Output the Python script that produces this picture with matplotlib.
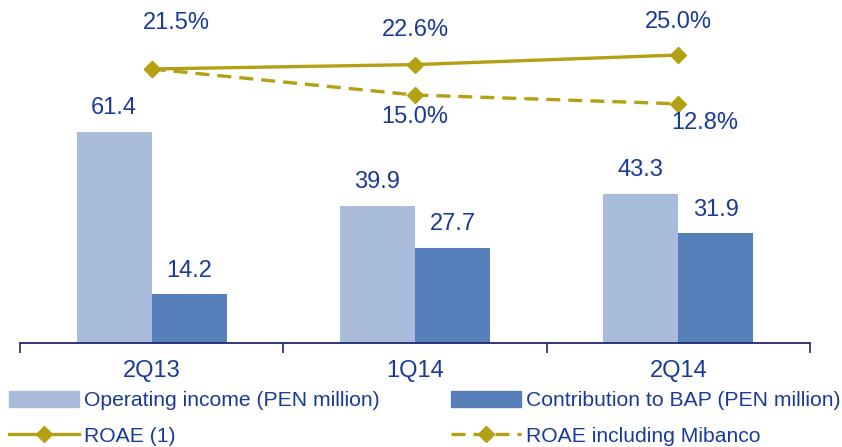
import matplotlib
matplotlib.use("Agg")
import matplotlib.pyplot as plt
import numpy as np
from matplotlib.lines import Line2D
from matplotlib.patches import Patch

plt.rcParams["font.family"] = ["Liberation Sans", "DejaVu Sans"]

quarters = ["2Q13", "1Q14", "2Q14"]
operating_income = [61.4, 39.9, 43.3]
contribution_bap = [14.2, 27.7, 31.9]
roae = [21.5, 22.6, 25.0]
roae_mibanco = [21.5, 15.0, 12.8]

LIGHT = "#A9BCDB"
DARK = "#5780BA"
OLIVE = "#B3A013"
TEXT = "#1A3A98"
AXIS = "#1E2A6B"
DASH = (0, (4.2, 2.4))

fig = plt.figure(figsize=(8.42, 4.47), dpi=100)
ax = fig.add_axes([20 / 842, 1 - 343 / 447, 790 / 842, 343 / 447])
ax2 = ax.twinx()

x = np.arange(len(quarters))
w = 0.285
ax.bar(x - w / 2, operating_income, w, color=LIGHT)
ax.bar(x + w / 2, contribution_bap, w, color=DARK)
ax.set_xlim(-0.5, 2.5)
ax.set_ylim(0, 99.7)

for xi, v in zip(x - w / 2, operating_income):
    ax.annotate(f"{v:.1f}", (xi, v), xytext=(0, 17), textcoords="offset points",
                ha="center", va="center", fontsize=17, color=TEXT)
for xi, v in zip(x + w / 2, contribution_bap):
    ax.annotate(f"{v:.1f}", (xi, v), xytext=(0, 17), textcoords="offset points",
                ha="center", va="center", fontsize=17, color=TEXT)

ax2.plot(x, roae, color=OLIVE, lw=2.4, marker="D", ms=8)
ax2.plot(x, roae_mibanco, color=OLIVE, lw=2.4, ls=DASH, marker="D", ms=8)
ax2.set_ylim(-47, 38.75)

# label offsets in points (dx, dy)
roae_off = [(18, 33), (0, 25), (0, 24)]
mib_off = [None, (0, -16), (19, -14)]
for xi, v, off in zip(x, roae, roae_off):
    ax2.annotate(f"{v:.1f}%", (xi, v), xytext=off, textcoords="offset points",
                 ha="center", va="center", fontsize=17, color=TEXT)
for xi, v, off in zip(x, roae_mibanco, mib_off):
    if off is None:
        continue
    ax2.annotate(f"{v:.1f}%", (xi, v), xytext=off, textcoords="offset points",
                 ha="center", va="center", fontsize=17, color=TEXT)

for a in (ax, ax2):
    for s in ("top", "right", "left"):
        a.spines[s].set_visible(False)
    a.set_yticks([])
ax.spines["bottom"].set_color(AXIS)
ax.spines["bottom"].set_linewidth(1.3)
ax2.spines["bottom"].set_visible(False)

ax.set_xticks(x)
ax.set_xticklabels(quarters, fontsize=17, color=TEXT)
ax.tick_params(axis="x", which="major", length=0, pad=12)
ax.set_xticks([-0.5, 0.5, 1.5, 2.5], minor=True)
ax.tick_params(axis="x", which="minor", length=7, width=1.2, color=AXIS, direction="out")

handles = [
    Patch(color=LIGHT),
    Line2D([], [], color=OLIVE, lw=2.4, marker="D", ms=8),
    Patch(color=DARK),
    Line2D([], [], color=OLIVE, lw=2.4, ls=DASH, marker="D", ms=8),
]
labels = ["Operating income (PEN million)", "ROAE (1)",
          "Contribution to BAP (PEN million)", "ROAE including Mibanco"]
leg = fig.legend(handles, labels, ncol=2, loc="upper left",
                 bbox_to_anchor=(9 / 842, 1 - 391 / 447), frameon=False,
                 fontsize=15.2, handlelength=3.3, handleheight=0.8,
                 handletextpad=0.25, columnspacing=3.4, labelspacing=0.75,
                 borderaxespad=0, borderpad=0)
for t in leg.get_texts():
    t.set_color(TEXT)

fig.savefig("out.png", dpi=100)
